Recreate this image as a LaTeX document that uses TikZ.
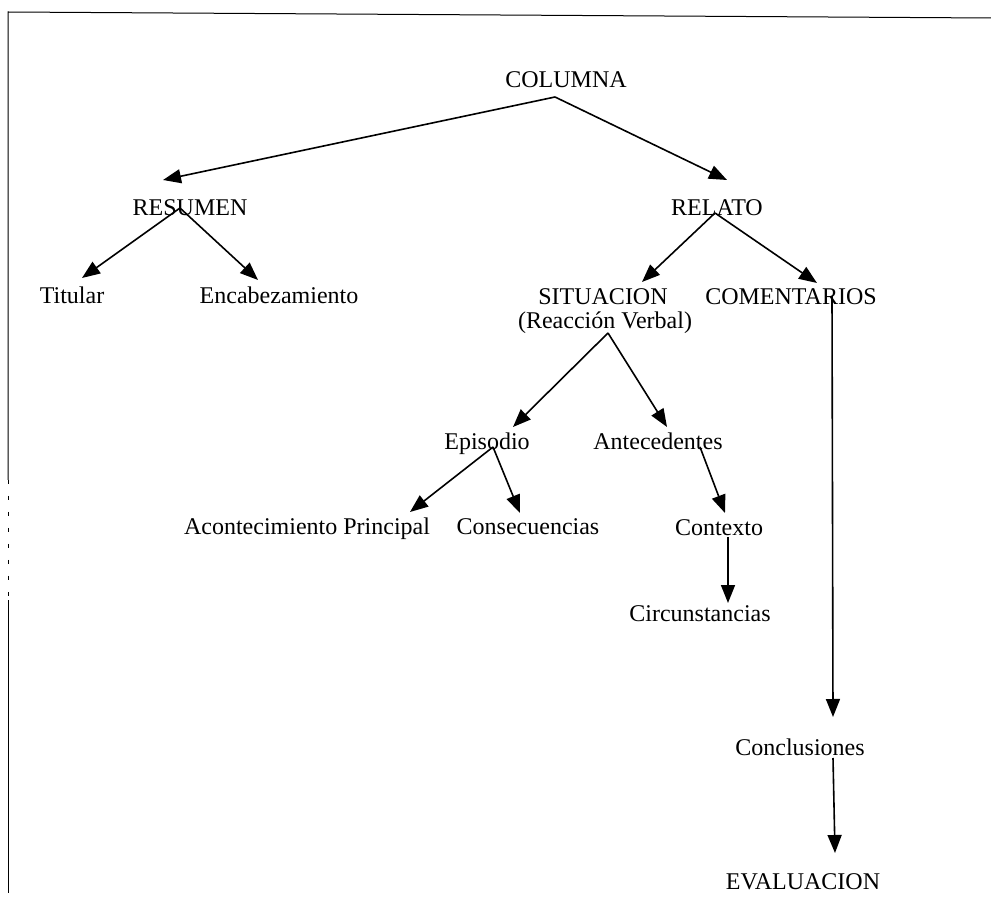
\documentclass[tikz,border=0pt]{standalone}
\usepackage{fontspec}
\setmainfont{Liberation Serif}
\usepackage{tikz}
\usetikzlibrary{arrows.meta, calc}

\begin{document}
\begin{tikzpicture}[x=0.5pt, y=-0.5pt, line width=0.8pt,
    label/.style={anchor=base, inner sep=0pt, font=\fontsize{12}{14}\selectfont},
    arr/.style={-{Triangle[length=9pt, width=7pt]}}]
    \useasboundingbox (0, 0) rectangle (991, 898);

    % draw page frame
    \draw[line width=0.5pt] (991, 18) -- (8, 12) -- (8, 480);
    \draw[line width=0.5pt, dash pattern=on 2pt off 6pt] (8, 480) -- (8, 600);
    \draw[line width=0.5pt] (8, 600) -- (8, 893);

    % draw labels
    \node[label] (columna) at (566, 88) {COLUMNA};
    \node[label] (resumen) at (190, 216) {RESUMEN};
    \node[label] (relato) at (717, 216) {RELATO};
    \node[label] (titular) at (72, 304) {Titular};
    \node[label] (encab) at (279, 304) {Encabezamiento};
    \node[label] (situacion) at (603, 305) {SITUACION};
    \node[label] (reaccion) at (605, 329) {(Reacción Verbal)};
    \node[label] (comentarios) at (791, 305) {COMENTARIOS};
    \node[label] (episodio) at (487, 450) {Episodio};
    \node[label] (antec) at (658, 450) {Antecedentes};
    \node[label] (acont) at (307, 535) {Acontecimiento Principal};
    \node[label] (consec) at (528, 535) {Consecuencias};
    \node[label] (contexto) at (719, 536) {Contexto};
    \node[label] (circ) at (700, 621) {Circunstancias};
    \node[label] (conclu) at (800, 755) {Conclusiones};
    \node[label] (evalua) at (803, 889) {EVALUACION};

    % draw top level arrows
    \draw[arr] ($(columna.base)+(-11, 9)$) -- ($(resumen.base)+(-27, -36)$);
    \draw[arr] ($(columna.base)+(-11, 9)$) -- ($(relato.base)+(10, -36)$);

    % draw resumen arrows
    \draw[arr] ($(resumen.base)+(-10, -8)$) -- ($(titular.base)+(10, -26)$);
    \draw[arr] ($(resumen.base)+(-10, -8)$) -- ($(encab.base)+(-21, -24)$);

    % draw relato arrows
    \draw[arr] ($(relato.base)+(-2, -3)$) -- ($(situacion.base)+(39, -23)$);
    \draw[arr] ($(relato.base)+(-2, -3)$) -- ($(comentarios.base)+(26, -22)$);
    \draw[arr] ($(reaccion.base)+(3, 4)$) -- ($(episodio.base)+(26, -23)$);
    \draw[arr] ($(reaccion.base)+(3, 4)$) -- ($(antec.base)+(9, -23)$);
    \draw[arr] ($(comentarios.base)+(41, -9)$) -- ($(conclu.base)+(33, -38)$);

    % draw lower arrows
    \draw[arr] ($(episodio.base)+(6, -3)$) -- ($(acont.base)+(103, -23)$);
    \draw[arr] ($(episodio.base)+(6, -3)$) -- ($(consec.base)+(-8, -22)$);
    \draw[arr] ($(antec.base)+(42, -3)$) -- ($(contexto.base)+(6, -23)$);
    \draw[arr] ($(contexto.base)+(9, 1)$) -- ($(circ.base)+(28, -18)$);
    \draw[arr] ($(conclu.base)+(33, 3)$) -- ($(evalua.base)+(32, -36)$);

\end{tikzpicture}
\end{document}
